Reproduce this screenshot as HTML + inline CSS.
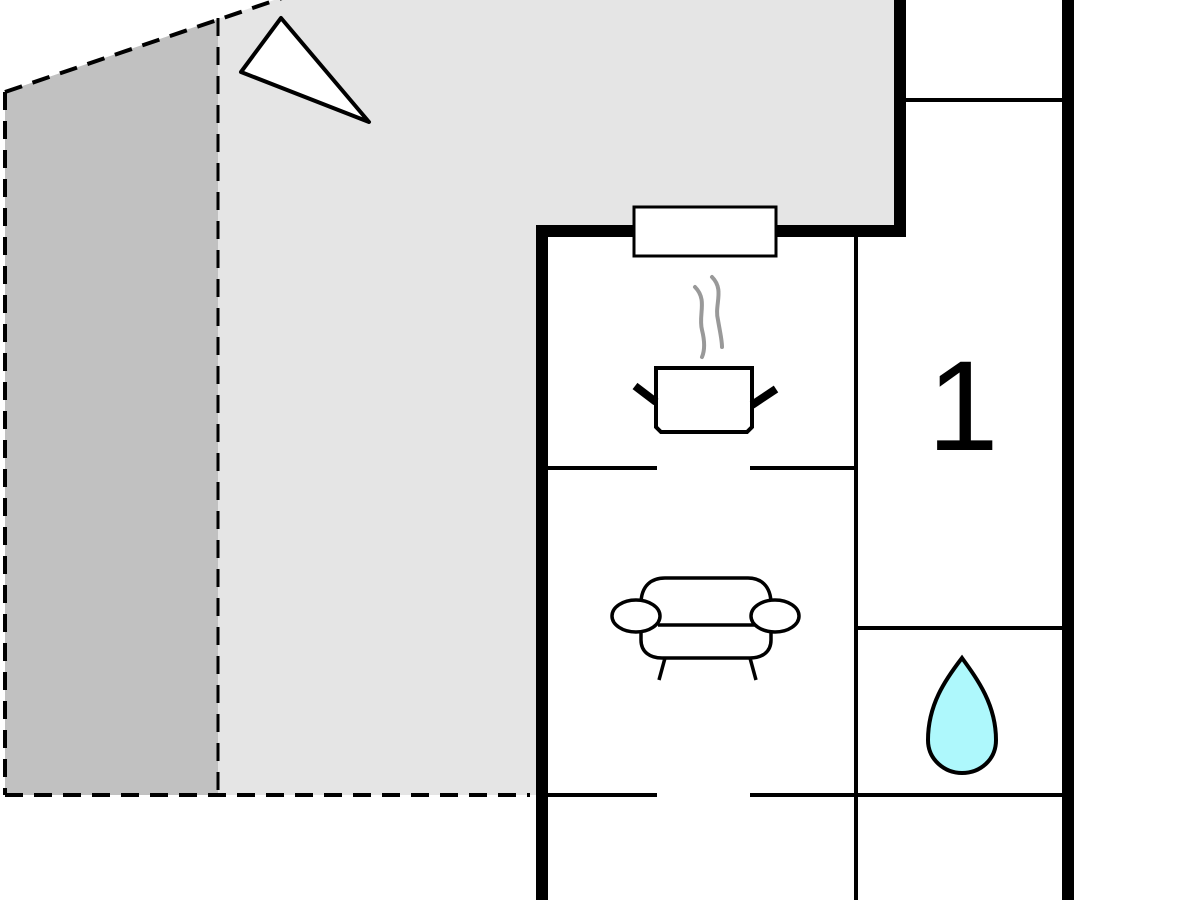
<!DOCTYPE html>
<html><head><style>html,body{margin:0;padding:0;background:#fff;width:1200px;height:900px;overflow:hidden}</style></head>
<body>
<svg width="1200" height="900" viewBox="0 0 1200 900" xmlns="http://www.w3.org/2000/svg">
<polygon points="5,92 280,-2 900,-2 900,231 542,231 542,795 5,795" fill="#e5e5e5"/>
<polygon points="5,92 218,19 218,795 5,795" fill="#c1c1c1"/>
<g fill="none" stroke="#000" stroke-width="4" stroke-dasharray="18,11">
<line x1="5" y1="92" x2="285" y2="-3"/>
<line x1="5" y1="92" x2="5" y2="795"/>
<line x1="218" y1="18" x2="218" y2="795" stroke-width="3"/>
<line x1="5" y1="795" x2="530" y2="795"/>
</g>
<polygon points="241,72 281,18 369,122" fill="#fff" stroke="#000" stroke-width="4" stroke-linejoin="round"/>
<g stroke="#000" fill="none">
<polyline points="542,900 542,231 900,231 900,0" stroke-width="12"/>
<line x1="1068" y1="0" x2="1068" y2="900" stroke-width="12"/>
<line x1="905" y1="100" x2="1062" y2="100" stroke-width="4"/>
<line x1="856" y1="236" x2="856" y2="900" stroke-width="4"/>
<line x1="856" y1="628" x2="1062" y2="628" stroke-width="4"/>
<line x1="856" y1="795" x2="1062" y2="795" stroke-width="4"/>
<line x1="548" y1="468" x2="657" y2="468" stroke-width="4"/>
<line x1="750" y1="468" x2="856" y2="468" stroke-width="4"/>
<line x1="548" y1="795" x2="657" y2="795" stroke-width="4"/>
<line x1="750" y1="795" x2="856" y2="795" stroke-width="4"/>
</g>
<rect x="634" y="207" width="142" height="49" fill="#fff" stroke="#000" stroke-width="3"/>
<g stroke="#999" stroke-width="4" fill="none" stroke-linecap="round">
<path d="M695,287 C708,300 698,315 702,330 C705,342 705,350 702,357"/>
<path d="M712,277 C725,290 714,305 718,320 C720,332 722,340 722,347"/>
</g>
<path d="M656,368 L752,368 L752,427 L747,432 L661,432 L656,427 Z" fill="#fff" stroke="#000" stroke-width="4"/>
<g stroke="#000" stroke-width="8">
<line x1="635" y1="386" x2="656" y2="402"/>
<line x1="776" y1="389" x2="752" y2="405"/>
</g>
<g stroke="#000" stroke-width="3.5" fill="#fff">
<path d="M641,604 C641,585 652,578 665,578 L748,578 C760,578 771,585 771,604 L771,640 C771,652 762,658 750,658 L662,658 C650,658 641,652 641,640 Z"/>
<line x1="658" y1="625" x2="755" y2="625"/>
<ellipse cx="636" cy="616" rx="24" ry="16"/>
<ellipse cx="775" cy="616" rx="24" ry="16"/>
<line x1="665" y1="658" x2="659" y2="680"/>
<line x1="750" y1="658" x2="756" y2="680"/>
</g>
<text x="963" y="450" font-family="Liberation Sans, sans-serif" font-size="128" text-anchor="middle" fill="#000">1</text>
<path d="M962,658 C945,680 928,705 928,740 C928,760 945,773 962,773 C980,773 996,760 996,740 C996,705 978,680 962,658 Z" fill="#aef8fc" stroke="#000" stroke-width="4"/>
</svg>
</body></html>
